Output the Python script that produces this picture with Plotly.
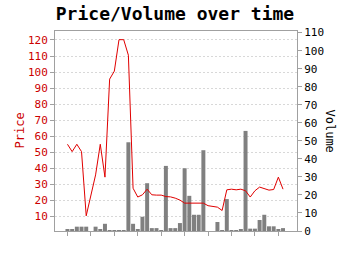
import plotly.graph_objects as go

idx = list(range(47))
price = [55, 50.4, 55, 50.4, 10.4, 22.4, 35.9, 55, 34.5, 95.6,
         100.6, 120.2, 120.2, 110.5, 27.6, 22.1, 23.5, 27, 23.5, 23.3,
         23.3, 22.4, 22.2, 21.4, 20.2, 18.3, 18.3, 18.3, 18.3, 18.3,
         16.7, 16.3, 15.8, 13.7, 26.6, 27, 26.6, 27, 26, 22.1,
         26, 28.3, 27.3, 26.4, 26.8, 34.5, 27]
volume = [1.1, 0.8, 2.4, 2.4, 2.4, 0, 2.4, 1.1, 4.0, 0.4,
          0.4, 0.4, 0.4, 49.2, 4.0, 0.7, 7.9, 26.5, 1.6, 1.6,
          0.5, 36.1, 1.6, 1.6, 4.4, 34.8, 19.5, 9.0, 9.0, 44.8,
          0, 0, 5.0, 0.5, 17.7, 0.5, 0.5, 1.0, 55.5, 1.3,
          1.3, 6.1, 9.0, 2.6, 2.6, 1.0, 1.6]
price_ticks = list(range(10, 121, 10))
volume_ticks = list(range(0, 111, 10))

FONT = "DejaVu Sans Mono"
RED = "#cc0000"
AXIS = "#a0a0a0"

fig = go.Figure()
fig.add_trace(go.Bar(x=idx, y=volume, yaxis="y", marker=dict(color="#808080", line=dict(width=0)),
                     showlegend=False))
fig.add_trace(go.Scatter(x=idx, y=price, yaxis="y2", mode="lines",
                         line=dict(color="#e00000", width=1), showlegend=False))

fig.update_layout(
    width=350, height=255,
    margin=dict(l=55, r=53, t=31, b=24),
    paper_bgcolor="white", plot_bgcolor="white",
    font=dict(family=FONT, size=11, color="black"),
    bargap=0.15,
    title=dict(text="<b>Price/Volume over time</b>", font=dict(family=FONT, size=18, color="black"),
               x=0.5, xref="container", xanchor="center",
               y=1 - 14 / 255, yref="container", yanchor="middle"),
    xaxis=dict(range=[-2.66, 48.98], tickvals=list(range(0, 46, 5)), showticklabels=False,
               ticks="outside", ticklen=4, tickcolor=AXIS, showgrid=False, zeroline=False,
               showline=True, linecolor=AXIS, linewidth=1, mirror=True),
    yaxis=dict(side="right", range=[0, 110.9], tickvals=volume_ticks,
               ticks="outside", ticklen=4, tickcolor=AXIS, showgrid=False, zeroline=False,
               showline=True, linecolor=AXIS, linewidth=1,
               tickfont=dict(family=FONT, size=11, color="black")),
    yaxis2=dict(side="left", overlaying="y", range=[0.93, 125.6], tickvals=price_ticks,
                ticks="outside", ticklen=4, tickcolor=AXIS, showgrid=True,
                gridcolor="#d8d8d8", griddash="2px,2px", gridwidth=1, zeroline=False,
                showline=True, linecolor=AXIS, linewidth=1,
                tickfont=dict(family=FONT, size=11, color=RED)),
    annotations=[
        dict(text="Price", xref="paper", yref="paper", x=(19.5 - 55) / 242, y=0.5,
             textangle=-90, showarrow=False, font=dict(family=FONT, size=12, color=RED),
             xanchor="center", yanchor="middle"),
        dict(text="Volume", xref="paper", yref="paper", x=(329.5 - 55) / 242, y=0.5,
             textangle=90, showarrow=False, font=dict(family=FONT, size=12, color="black"),
             xanchor="center", yanchor="middle"),
    ],
)

fig.write_html("out.html")
